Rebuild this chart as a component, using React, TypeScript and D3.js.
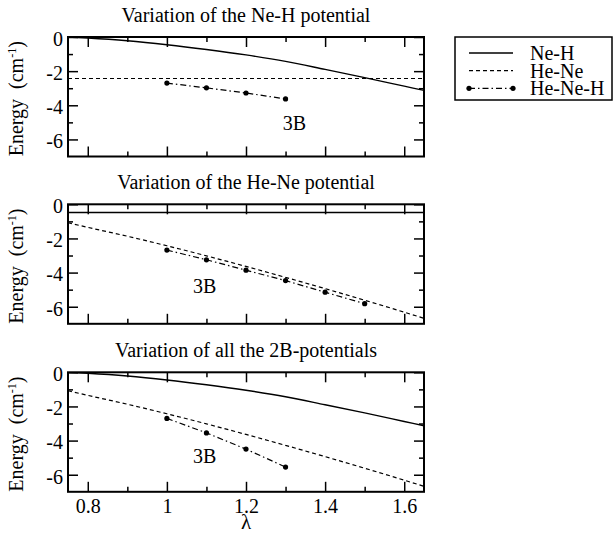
import React, { useRef, useEffect } from 'react';
import * as d3 from 'd3';

// lambda grid used for the two-body curves
const lambdaGrid = [0.75, 0.8, 0.9, 1.0, 1.1, 1.2, 1.3, 1.4, 1.5, 1.6, 1.65];
const neHCurve = [0, -0.06, -0.22, -0.45, -0.73, -1.05, -1.43, -1.9, -2.38, -2.88, -3.13];
const heNeCurve = [-1.08, -1.35, -1.87, -2.43, -3.02, -3.64, -4.28, -4.94, -5.62, -6.32, -6.68];
const neHFixed = -0.48;
const heNeFixed = -2.43;

// three-body points for each panel
const lambda3BTop = [1.0, 1.1, 1.2, 1.3];
const heNeHTop = [-2.7, -2.98, -3.28, -3.63];
const lambda3BMid = [1.0, 1.1, 1.2, 1.3, 1.4, 1.5];
const heNeHMid = [-2.68, -3.25, -3.86, -4.47, -5.15, -5.82];
const lambda3BBot = [1.0, 1.1, 1.2, 1.3];
const heNeHBot = [-2.7, -3.55, -4.5, -5.55];

const titles = [
  'Variation of the Ne-H potential',
  'Variation of the He-Ne potential',
  'Variation of all the 2B-potentials',
];
const xMajor = [0.8, 1.0, 1.2, 1.4, 1.6];
const xMinor = [0.9, 1.1, 1.3, 1.5];
const yMajor = [0, -2, -4, -6];
const yMinor = [-1, -3, -5];
const legendLabels = ['Ne-H', 'He-Ne', 'He-Ne-H'];
// "3B" annotation anchor per panel, in data units
const note3B = [[1.293, -5.45], [1.066, -5.2], [1.066, -5.3]];

const FONT = "'Liberation Serif', 'Times New Roman', 'DejaVu Serif', serif";
const DASH = '4,3';
const DASHDOT = '6,3,1.5,3';

const App = () => {
  const ref = useRef<SVGSVGElement>(null);

  useEffect(() => {
    const svg = d3.select(ref.current);
    svg.selectAll('*').remove();

    const left = 68, right = 424;
    const tops = [37, 204.3, 372.3];
    const ph = 119.5;

    const x = d3.scaleLinear().domain([0.75, 1.65]).range([left, right]);
    const xd = x.domain();

    const panels = [
      { neH: 'curve', heNe: 'fixed', lam: lambda3BTop, vals: heNeHTop },
      { neH: 'fixed', heNe: 'curve', lam: lambda3BMid, vals: heNeHMid },
      { neH: 'curve', heNe: 'curve', lam: lambda3BBot, vals: heNeHBot },
    ];

    panels.forEach((p, i) => {
      const top = tops[i];
      const bottom = top + ph;
      const y = d3.scaleLinear().domain([-7, 0]).range([bottom, top]);
      const g = svg.append('g');

      const clipId = 'clip' + i;
      svg.append('clipPath').attr('id', clipId)
        .append('rect').attr('x', left).attr('y', top).attr('width', right - left).attr('height', ph);

      const line = d3.line<[number, number]>().x(d => x(d[0])).y(d => y(d[1])).curve(d3.curveMonotoneX);
      const straight = d3.line<[number, number]>().x(d => x(d[0])).y(d => y(d[1]));

      const neHData: [number, number][] = p.neH === 'curve'
        ? lambdaGrid.map((l, k) => [l, neHCurve[k]])
        : [[xd[0], neHFixed], [xd[1], neHFixed]];
      const heNeData: [number, number][] = p.heNe === 'curve'
        ? lambdaGrid.map((l, k) => [l, heNeCurve[k]])
        : [[xd[0], heNeFixed], [xd[1], heNeFixed]];
      const d3B: [number, number][] = p.lam.map((l, k) => [l, p.vals[k]]);

      const plot = g.append('g').attr('clip-path', `url(#${clipId})`);
      plot.append('path').attr('d', line(neHData)).attr('fill', 'none')
        .attr('stroke', '#000').attr('stroke-width', 1.4);
      plot.append('path').attr('d', line(heNeData)).attr('fill', 'none')
        .attr('stroke', '#000').attr('stroke-width', 1.2).attr('stroke-dasharray', DASH);
      plot.append('path').attr('d', straight(d3B)).attr('fill', 'none')
        .attr('stroke', '#000').attr('stroke-width', 1.2).attr('stroke-dasharray', DASHDOT);
      plot.selectAll('circle.pt').data(d3B).enter().append('circle')
        .attr('cx', d => x(d[0])).attr('cy', d => y(d[1])).attr('r', 2.6).attr('fill', '#000');

      // ticks on all four sides, pointing inward
      const axes = [
        { a: d3.axisBottom(x), t: `translate(0,${bottom})`, maj: xMajor, min: xMinor, lab: i === 2 },
        { a: d3.axisTop(x), t: `translate(0,${top})`, maj: xMajor, min: xMinor, lab: false },
        { a: d3.axisLeft(y), t: `translate(${left},0)`, maj: yMajor, min: yMinor, lab: true },
        { a: d3.axisRight(y), t: `translate(${right},0)`, maj: yMajor, min: yMinor, lab: false },
      ];
      axes.forEach((ax, k) => {
        const isX = k < 2;
        const fmt = (v: any) => (ax.lab ? (isX ? String(+(+v).toFixed(1)) : String(v)) : '');
        const majG = g.append('g').attr('transform', ax.t)
          .call(ax.a.tickValues(ax.maj).tickSize(-10).tickPadding(isX ? 7 : 5).tickFormat(fmt));
        majG.select('.domain').remove();
        majG.attr('font-family', null).attr('font-size', null);
        majG.selectAll('line').attr('stroke-width', 1.5);
        majG.selectAll('text').style('font-family', FONT).style('font-size', '20px').attr('fill', '#000');
        if (!isX) majG.selectAll('text').attr('dy', '0.42em');
        const minG = g.append('g').attr('transform', ax.t)
          .call(ax.a.tickValues(ax.min).tickSize(-5).tickFormat(() => ''));
        minG.select('.domain').remove();
        minG.selectAll('line').attr('stroke-width', 1.5);
      });

      g.append('rect').attr('x', left).attr('y', top).attr('width', right - left).attr('height', ph)
        .attr('fill', 'none').attr('stroke', '#000').attr('stroke-width', 2);

      g.append('text').attr('x', (left + right) / 2).attr('y', top - 15)
        .attr('text-anchor', 'middle').style('font-family', FONT).style('font-size', '20px')
        .text(titles[i]);

      g.append('text').attr('x', x(note3B[i][0])).attr('y', y(note3B[i][1]))
        .style('font-family', FONT).style('font-size', '20px').text('3B');

      const yl = g.append('text')
        .attr('transform', `translate(23,${top + ph / 2 + 2}) rotate(-90)`)
        .attr('text-anchor', 'middle').style('font-family', FONT).style('font-size', '20px')
        .style('white-space', 'pre');
      yl.append('tspan').text('Energy  (cm');
      yl.append('tspan').style('font-size', '12px').attr('baseline-shift', '55%').text('-1');
      yl.append('tspan').text(')');
    });

    svg.append('text').attr('x', (left + right) / 2).attr('y', 529)
      .attr('text-anchor', 'middle').style('font-family', FONT).style('font-size', '21px')
      .text('λ');

    // legend
    const lg = svg.append('g');
    lg.append('rect').attr('x', 455).attr('y', 37).attr('width', 157).attr('height', 63)
      .attr('fill', 'none').attr('stroke', '#000').attr('stroke-width', 1.5);
    const rows = [53, 70.7, 88.3];
    const styles = [null, DASH, DASHDOT];
    legendLabels.forEach((lab, k) => {
      const ln = lg.append('line').attr('x1', 469).attr('x2', 513).attr('y1', rows[k]).attr('y2', rows[k])
        .attr('stroke', '#000').attr('stroke-width', k === 0 ? 1.4 : 1.2);
      if (styles[k]) ln.attr('stroke-dasharray', styles[k] as string);
      if (k === 2) {
        [469, 513].forEach(cx => lg.append('circle').attr('cx', cx).attr('cy', rows[k]).attr('r', 2.6).attr('fill', '#000'));
      }
      lg.append('text').attr('x', 530).attr('y', rows[k]).attr('dy', '0.35em')
        .style('font-family', FONT).style('font-size', '20px').text(lab);
    });
  });

  return (
    <svg ref={ref} width={614} height={535}
      style={{ position: 'absolute', left: 0, top: 0, background: '#fff' }} />
  );
};

export default App;
